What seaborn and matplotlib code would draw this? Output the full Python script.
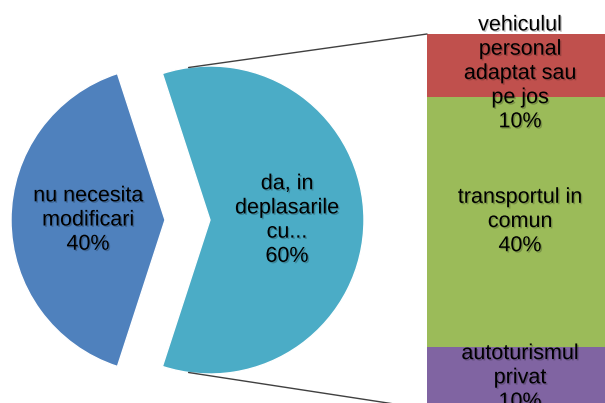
import numpy as np
import matplotlib
matplotlib.use("Agg")
import matplotlib.pyplot as plt
import matplotlib.patheffects as pe
from matplotlib.patches import ConnectionPatch
import seaborn as sns

# pie data
pie_labels = ["da, in\ndeplasarile\ncu...", "nu necesita\nmodificari"]
pie_values = [60, 40]
pie_colors = ["#4BACC6", "#4F81BD"]

# bar data (bottom -> top)
bar_labels = ["autoturismul\nprivat", "transportul in\ncomun", "vehiculul\npersonal\nadaptat sau\npe jos"]
bar_values = [10, 40, 10]
bar_colors = ["#8064A2", "#9BBB59", "#C0504D"]

sns.set_theme(style="white")
plt.rcParams["font.family"] = ["Liberation Sans", "DejaVu Sans"]

fig = plt.figure(figsize=(6.05, 4.03), dpi=100)
shadow = [pe.withSimplePatchShadow(offset=(1, -1), shadow_rgbFace="black", alpha=0.22)]
tprops = dict(fontsize=15.5, ha="center", va="center", multialignment="center",
              linespacing=1.2, color="black", path_effects=shadow)

# pie, 1 unit = 154 px, centre at (187.5, 183) px
ax = fig.add_axes([0, 0, 1, 1])
txt = [f"{l}\n{v}%" for l, v in zip(pie_labels, pie_values)]
wedges, texts = ax.pie(pie_values, colors=pie_colors, startangle=-108,
                       explode=[0.146, 0.146], labels=txt, labeldistance=0.5,
                       textprops=tprops)
ax.set_aspect("auto")
ax.set_xlim(-187.5 / 154, (605 - 187.5) / 154)
ax.set_ylim(-183 / 154, 220 / 154)
ax.axis("off")

# stacked bar
bx = fig.add_axes([427 / 605, -6 / 403, 186 / 605, 375 / 403])
bottom = 0
total = sum(bar_values)
for lab, v, c in zip(bar_labels, bar_values, bar_colors):
    bx.bar(0, v, bottom=bottom, width=1, color=c, edgecolor="none")
    yl = bottom + v / 2
    if bottom + v == total:
        yl -= 1.3  # label kept inside the chart area
    bx.text(0, yl, f"{lab}\n{v}%", clip_on=False, **tprops)
    bottom += v
bx.set_xlim(-0.5, 0.5)
bx.set_ylim(0, total)
bx.axis("off")

# connector lines from the teal wedge to the bar
w = wedges[0]
cx, cy = w.center
for ang, yb in [(98, total), (-98, 0)]:
    p = (cx + w.r * np.cos(np.radians(ang)), cy + w.r * np.sin(np.radians(ang)))
    con = ConnectionPatch(xyA=p, coordsA=ax.transData, xyB=(-0.5, yb), coordsB=bx.transData,
                          color="#404040", lw=1)
    fig.add_artist(con)

fig.savefig("out.png", dpi=100)
